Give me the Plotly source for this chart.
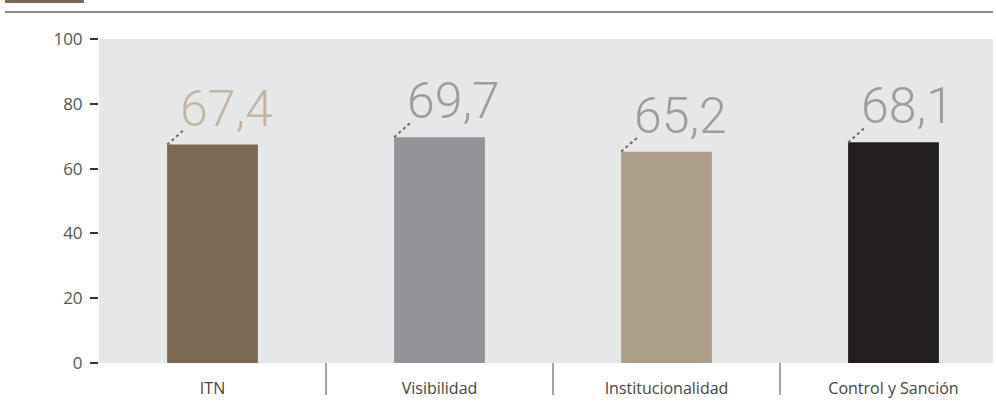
import plotly.graph_objects as go

categories = ["ITN", "Visibilidad", "Institucionalidad", "Control y Sanción"]
values = [67.4, 69.7, 65.2, 68.1]
labels = ["67,4", "69,7", "65,2", "68,1"]
bar_colors = ["#7a6852", "#939497", "#ad9e89", "#231f20"]
label_colors = ["#c3b5a4", "#9c9c9e", "#9c9c9e", "#9c9c9e"]
y_ticks = [0, 20, 40, 60, 80, 100]

BAR_W = 0.4
W, H = 996, 413
ML, MR, MT, MB = 99, 3, 39, 50
pw = W - ML - MR
ph = H - MT - MB

fig = go.Figure()
fig.add_trace(go.Bar(
    x=list(range(len(categories))), y=values, width=BAR_W,
    marker=dict(color=bar_colors, line_width=0),
    hoverinfo="skip", showlegend=False))

for i, (v, lab, col) in enumerate(zip(values, labels, label_colors)):
    # dotted leader from the bar's top-left corner
    fig.add_shape(type="line", xref="x", yref="y",
                  xsizemode="pixel", ysizemode="pixel",
                  xanchor=i - BAR_W / 2, yanchor=v,
                  x0=0, x1=16, y0=0, y1=14,
                  line=dict(color="#7a6852", width=2, dash="dot"))
    fig.add_annotation(x=i - BAR_W / 2, y=v, text=lab, showarrow=False,
                       xanchor="left", yanchor="bottom", xshift=11, yshift=5,
                       font=dict(family="Roboto", size=50, color=col, weight=300))

# separators between categories, below the axis
for i in range(len(categories) - 1):
    fig.add_shape(type="line", xref="x", yref="paper",
                  x0=i + 0.5, x1=i + 0.5, y0=0, y1=-32 / ph,
                  line=dict(color="#666666", width=1.2))

# header decorations
fig.add_shape(type="rect", xref="paper", yref="paper",
              x0=(5 - ML) / pw, x1=(84 - ML) / pw,
              y0=1 + (MT - 3) / ph, y1=1 + (MT + 2) / ph,
              fillcolor="#7a6852", line_width=0)
fig.add_shape(type="line", xref="paper", yref="paper",
              x0=(5 - ML) / pw, x1=(993 - ML) / pw,
              y0=1 + (MT - 12) / ph, y1=1 + (MT - 12) / ph,
              line=dict(color="#8a8a8a", width=2))

fig.update_layout(
    width=W, height=H,
    margin=dict(l=ML, r=MR, t=MT, b=MB),
    paper_bgcolor="white", plot_bgcolor="#e6e7e9",
    bargap=0.6,
)
fig.update_xaxes(
    range=[-0.5, 3.5 - (1007 - 993) / 227],
    tickmode="array", tickvals=list(range(len(categories))), ticktext=categories,
    showgrid=False, zeroline=False, showline=False, ticks="",
    tickfont=dict(family="Open Sans", size=16, color="#444444"),
    ticklabelstandoff=14,
)
fig.update_yaxes(
    range=[0, 100], tickmode="array", tickvals=y_ticks,
    showgrid=False, zeroline=False, showline=False,
    ticks="outside", ticklen=8, tickcolor="#333333", tickwidth=1.5,
    tickfont=dict(family="Open Sans", size=17, color="#555555"),
    ticklabelstandoff=4,
)

fig.write_html("out.html", config={"displayModeBar": False},
               post_script="document.body.style.margin='0';")
